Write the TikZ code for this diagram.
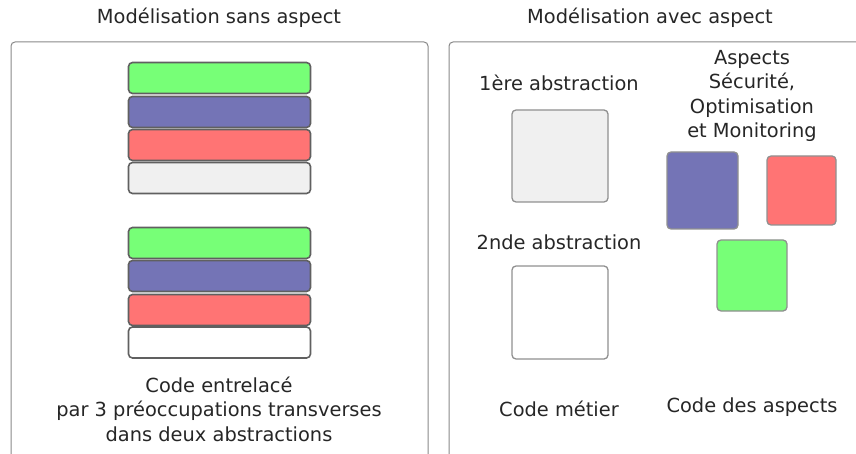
\documentclass[tikz,border=0pt]{standalone}
\usepackage{fontspec}
\setmainfont{DejaVu Sans}
\definecolor{cgreen}{HTML}{77FF77}
\definecolor{cblue}{HTML}{7474B6}
\definecolor{cred}{HTML}{FF7474}
\definecolor{cgray}{HTML}{F0F0F0}
\definecolor{cpanel}{HTML}{888888}
\definecolor{cbar}{HTML}{606060}
\definecolor{csq}{HTML}{909090}
\begin{document}
\begin{tikzpicture}[x=1pt,y=-1pt,
  panel/.style={draw=cpanel,line width=1pt,rounded corners=4pt},
  bar/.style={draw=cbar,line width=1.6pt,rounded corners=4pt,minimum width=182pt,minimum height=31pt,inner sep=0pt},
  sq/.style={draw=csq,line width=1.3pt,rounded corners=4pt,inner sep=0pt},
  lbl/.style={font=\fontsize{19.4}{24.5}\selectfont,align=center,inner sep=0pt,text=black!85}]
\useasboundingbox (0,0) rectangle (856,454);
\draw[panel] (11,470) -- (11,42) -- (428,42) -- (428,470);
\draw[panel] (449,42) rectangle (880,470);
\node[lbl] (t1) at (219,18) {Modélisation sans aspect};
\node[lbl] (t2) at (650,18) {Modélisation avec aspect};
% top stack
\node[bar,fill=cgreen] (g1) at (219.5,78) {};
\node[bar,fill=cblue] (b1) at (219.5,112) {};
\node[bar,fill=cred] (r1) at (219.5,145) {};
\node[bar,fill=cgray] (w1) at (219.5,178) {};
% bottom stack
\node[bar,fill=cgreen] (g2) at (219.5,243) {};
\node[bar,fill=cblue] (b2) at (219.5,276) {};
\node[bar,fill=cred] (r2) at (219.5,310) {};
\node[bar,fill=white] (w2) at (219.5,342.5) {};
\node[lbl] (c1) at (219,409) {Code entrelacé\\par 3 préoccupations transverses\\dans deux abstractions};
% right panel
\node[lbl] (a1) at (559,83) {1ère abstraction};
\node[sq,fill=cgray,minimum width=96pt,minimum height=92pt] (s1) at (560,156) {};
\node[lbl] (a2) at (559,242) {2nde abstraction};
\node[sq,fill=white,minimum width=96pt,minimum height=93pt] (s2) at (560,312.5) {};
\node[lbl] (cm) at (559,409) {Code métier};
\node[lbl] (asp) at (752,96) {Aspects\\Sécurité,\\Optimisation\\et Monitoring};
\node[sq,fill=cblue,minimum width=71pt,minimum height=77pt] (sb) at (702.5,190.5) {};
\node[sq,fill=cred,minimum width=69pt,minimum height=69pt] (sr) at (801.5,190.5) {};
\node[sq,fill=cgreen,minimum width=70pt,minimum height=71pt] (sg) at (752,275.5) {};
\node[lbl] (ca) at (752,407) {Code des aspects};
\end{tikzpicture}
\end{document}
